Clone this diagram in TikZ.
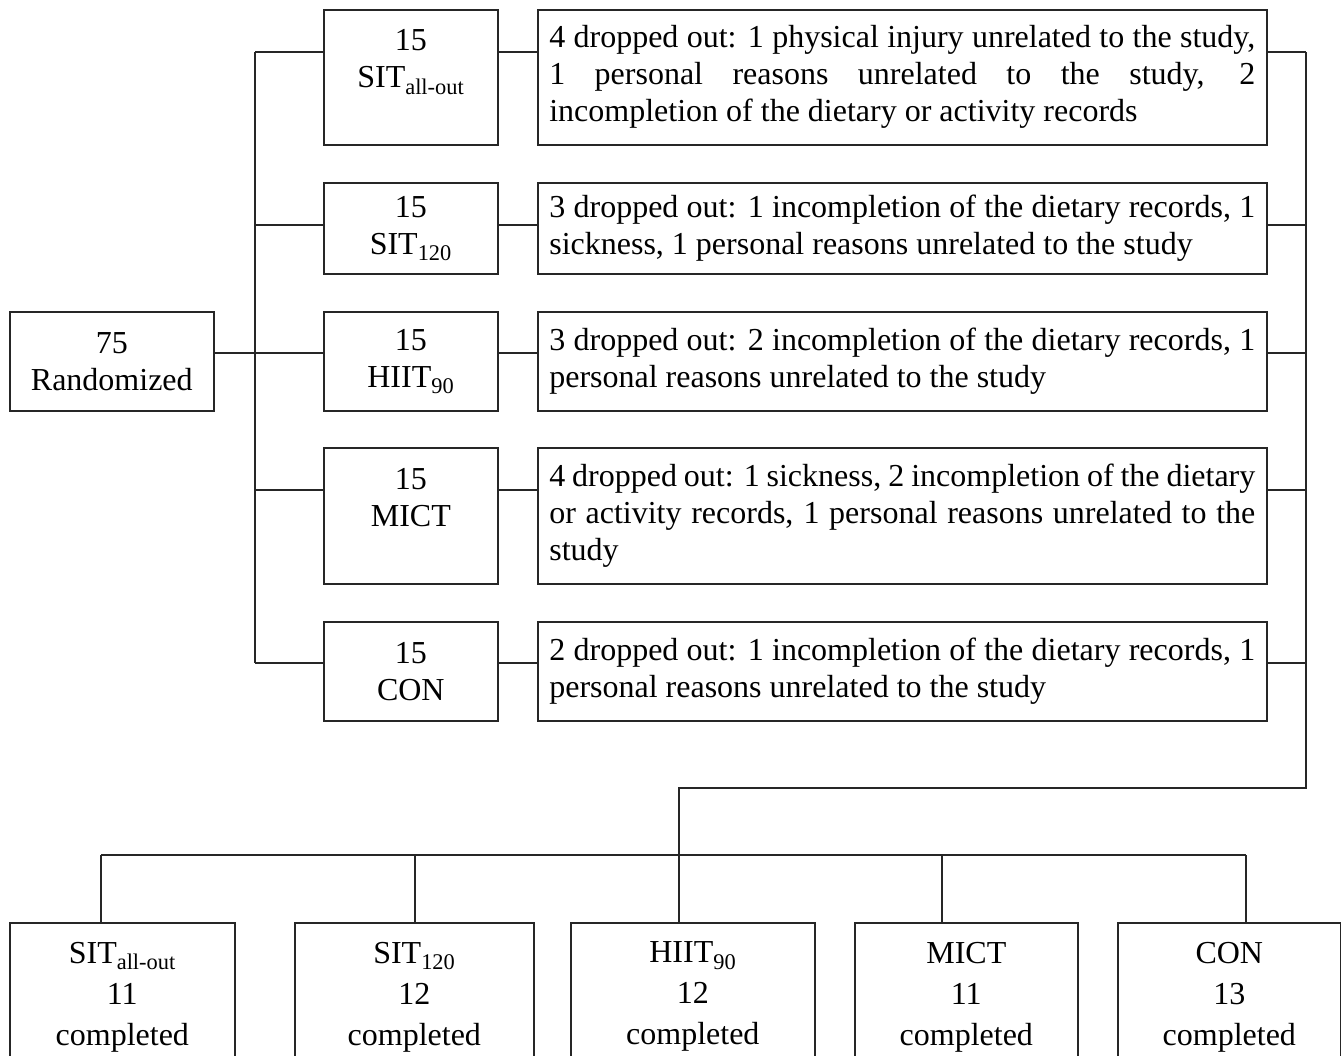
\documentclass[tikz,border=0pt]{standalone}
\usepackage{fontspec}
\setmainfont{Liberation Serif}
\newcommand\mainfs{\fontsize{32}{37}\selectfont\hyphenpenalty=10000 }
\newcommand\botfs{\fontsize{32}{41}\selectfont}
\begin{document}
\begin{tikzpicture}[x=1pt,y=-1pt,
  ln/.style={line width=1.6pt, draw=black!85},
  bx/.style={draw=black!85, line width=1.6pt, inner sep=0pt, align=center, anchor=north west, font=\mainfs},
  bbx/.style={draw=black!85, line width=1.6pt, inner sep=0pt, align=center, anchor=north west, font=\botfs, minimum height=148},
  tb/.style={draw=black!85, line width=1.6pt, inner xsep=11.5pt, inner ysep=0pt, text width=706pt, align=justify, anchor=north west, font=\mainfs},
]
\useasboundingbox (0,0) rectangle (1341,1055);
\fill[white] (0,0) rectangle (1341,1055);

% randomized
\node[bx, minimum width=204, minimum height=99] (rand) at (9,311) {75\\Randomized};

% group boxes
\node[bx, minimum width=174, minimum height=135] (g1) at (323,9) {15\\SIT\textsubscript{all-out}\\\mbox{}};
\node[bx, minimum width=174, minimum height=91] (g2) at (323,182) {15\\SIT\textsubscript{120}};
\node[bx, minimum width=174, minimum height=99] (g3) at (323,311) {15\\HIIT\textsubscript{90}};
\node[bx, minimum width=174, minimum height=136] (g4) at (323,447) {15\\MICT\\\mbox{}};
\node[bx, minimum width=174, minimum height=99] (g5) at (323,621) {15\\CON};

% text boxes
\node[tb, minimum height=135] (t1) at (537,9) {4 dropped out: 1 physical injury unrelated to the study,\linebreak 1 personal reasons unrelated to the study, 2\linebreak incompletion of the dietary or activity records};
\node[tb, minimum height=91] (t2) at (537,182) {3 dropped out: 1 incompletion of the dietary records, 1\linebreak sickness, 1 personal reasons unrelated to the study};
\node[tb, minimum height=99] (t3) at (537,311) {3 dropped out: 2 incompletion of the dietary records, 1\linebreak personal reasons unrelated to the study};
\node[tb, minimum height=136] (t4) at (537,447) {4 dropped out: 1 sickness, 2 incompletion of the dietary\linebreak or activity records, 1 personal reasons unrelated to the\linebreak study};
\node[tb, minimum height=99] (t5) at (537,621) {2 dropped out: 1 incompletion of the dietary records, 1\linebreak personal reasons unrelated to the study};

% bottom boxes
\node[bbx, minimum width=225] (b1) at (9,922) {SIT\textsubscript{all-out}\\11\\completed};
\node[bbx, minimum width=239] (b2) at (294,922) {SIT\textsubscript{120}\\12\\completed};
\node[bbx, minimum width=244] (b3) at (570,922) {HIIT\textsubscript{90}\\12\\completed};
\node[bbx, minimum width=223] (b4) at (854,922) {MICT\\11\\completed};
\node[bbx, minimum width=223] (b5) at (1117,922) {CON\\13\\completed};

% junction coordinates
\coordinate (j1) at (255,52);
\coordinate (j2) at (255,225);
\coordinate (j3) at (255,353);
\coordinate (j4) at (255,490);
\coordinate (j5) at (255,663);
\coordinate (rt) at (1306,788);
\coordinate (mid) at (679,788);
\coordinate (c1) at (101,855);
\coordinate (c2) at (415,855);
\coordinate (c4) at (942,855);
\coordinate (c5) at (1246,855);

% left tree
\draw[ln] (j1) -- (j5);
\draw[ln] (rand.east |- j3) -- (j3);
\foreach \i in {1,...,5}{
  \draw[ln] (j\i) -- (j\i -| g\i.west);
  \draw[ln] (g\i.east |- j\i) -- (t\i.west |- j\i);
  \draw[ln] (t\i.east |- j\i) -- (j\i -| rt);
}
% right trunk and bottom
\draw[ln] (j1 -| rt) -- (rt) -- (mid) -- (mid |- b3.north);
\draw[ln] (c1) -- (c5);
\draw[ln] (c1) -- (c1 |- b1.north);
\draw[ln] (c2) -- (c2 |- b2.north);
\draw[ln] (c4) -- (c4 |- b4.north);
\draw[ln] (c5) -- (c5 |- b5.north);
\end{tikzpicture}
\end{document}
